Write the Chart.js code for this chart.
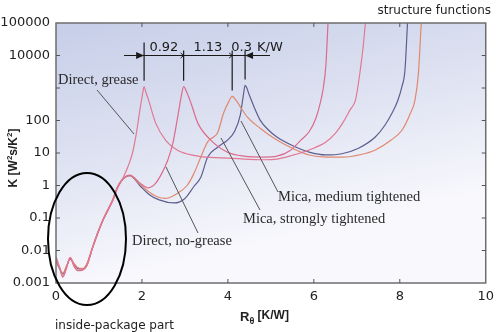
<!DOCTYPE html>
<html>
<head>
<meta charset="utf-8">
<script src="https://cdn.jsdelivr.net/npm/chart.js@4"></script>
<style>
  body { margin: 0; background: #fff; }
  #wrap { width: 500px; height: 332px; position: relative; }
</style>
</head>
<body>
<div id="wrap"><canvas id="chart"></canvas></div>
<script>
// Structure functions: cumulative capacitance K vs cumulative thermal resistance R
const greaseR = [0, 0.08, 0.16, 0.25, 0.33, 0.42, 0.5, 0.62, 0.72, 0.85, 1.0, 1.1, 1.22, 1.33, 1.42,
  1.55, 1.68, 1.78, 1.87, 1.95, 2.01, 2.05, 2.09, 2.16, 2.32, 2.55, 2.84, 3.2, 3.6, 4.0, 4.5,
  4.84, 5.14, 5.5, 5.89, 6.28, 6.5, 6.67, 6.85, 6.97, 7.08, 7.15, 7.2];
const greaseK = [0.006, 0.003, 0.0015, 0.003, 0.0062, 0.0035, 0.0025, 0.0026, 0.0035, 0.012, 0.042, 0.09, 0.18, 0.36, 0.75,
  1.6, 4, 10, 40, 200, 600, 1100, 750, 400, 83, 25, 12, 8.5, 7.3, 7.0, 6.4,
  6.2, 6.5, 8.5, 12.4, 21.7, 40, 83, 220, 430, 3500, 20000, 100000];

const noGreaseR = [0, 0.08, 0.16, 0.25, 0.33, 0.42, 0.5, 0.62, 0.72, 0.85, 1.0, 1.1, 1.22, 1.33, 1.42,
  1.54, 1.72, 1.95, 2.15, 2.3, 2.45, 2.6, 2.72, 2.84, 2.92, 2.97, 3.05, 3.14, 3.3, 3.6, 3.99,
  4.38, 4.84, 5.14, 5.45, 5.7, 5.89, 6.05, 6.15, 6.22, 6.28, 6.33];
const noGreaseK = [0.0065, 0.0032, 0.0016, 0.0032, 0.006, 0.0032, 0.0024, 0.0025, 0.0034, 0.012, 0.044, 0.09, 0.19, 0.38, 0.8,
  1.5, 2.1, 1.2, 0.85, 1.1, 2.2, 6, 20, 150, 600, 1100, 700, 345, 83, 25, 10.6,
  8, 7.5, 8, 12, 25, 45, 120, 350, 1000, 5000, 100000];

const micaStrongR = [0, 0.08, 0.16, 0.25, 0.33, 0.42, 0.5, 0.62, 0.72, 0.85, 1.0, 1.1, 1.22, 1.33, 1.42,
  1.54, 1.72, 1.95, 2.15, 2.35, 2.55, 2.8, 3.05, 3.2, 3.37, 3.53, 3.65, 3.76, 3.9, 4.02, 4.10,
  4.2, 4.3, 4.45, 4.75, 5.14, 5.5, 5.89, 6.3, 6.67, 7.1, 7.43, 7.8, 8.05, 8.25, 8.35, 8.43, 8.5];
const micaStrongK = [0.005, 0.003, 0.002, 0.0035, 0.0058, 0.004, 0.003, 0.0028, 0.004, 0.013, 0.045, 0.095, 0.2, 0.4, 0.85,
  1.5, 2.0, 1.1, 0.65, 0.45, 0.4, 0.55, 1.0, 2.2, 7.5, 22, 30, 42, 170, 380, 550,
  400, 250, 130, 58, 25, 14, 8.7, 7.5, 7.5, 9, 12.4, 25, 50, 170, 400, 2500, 100000];

const micaMediumR = [0, 0.08, 0.16, 0.25, 0.33, 0.42, 0.5, 0.62, 0.72, 0.85, 1.0, 1.1, 1.22, 1.33, 1.42,
  1.54, 1.72, 1.95, 2.15, 2.4, 2.75, 3.0, 3.2, 3.37, 3.53, 3.76, 3.99, 4.15, 4.29, 4.36, 4.40,
  4.5, 4.6, 4.75, 4.95, 5.14, 5.5, 5.89, 6.28, 6.65, 7.04, 7.43, 7.65, 7.82, 7.95, 8.05, 8.12, 8.18];
const micaMediumK = [0.0048, 0.0028, 0.0019, 0.0033, 0.0055, 0.0038, 0.0028, 0.0027, 0.0038, 0.012, 0.043, 0.09, 0.19, 0.38, 0.82,
  1.5, 2.0, 1.0, 0.55, 0.36, 0.29, 0.4, 0.9, 1.8, 7.5, 15, 25, 45, 150, 600, 1200,
  600, 280, 103, 50, 31, 17, 10.6, 8.7, 9.5, 14, 31, 70, 170, 400, 1100, 3500, 100000];

// peak positions used by the dimension line, and the gaps written above it
const peakR = [2.05, 2.97, 4.10, 4.40];
const peakK = [1100, 1100, 550, 1200];
const gapLabels = ["0.92", "1.13", "0.3"];

const xTicks = [0, 2, 4, 6, 8, 10];
const yTicks = [0.001, 0.01, 0.1, 1, 10, 100, 1000, 10000, 100000];
const yTickLabels = ["0.001", "0.01", "0.1", "1", "10", "100", "", "10000", "100000"];

const toPoints = (rs, ks) => rs.map((r, i) => ({ x: r, y: ks[i] }));

const curve = (label, rs, ks, color) => ({
  label,
  data: toPoints(rs, ks),
  borderColor: color,
  borderWidth: 1.2,
  pointRadius: 0,
  fill: false,
  cubicInterpolationMode: "monotone"
});

const backdrop = {
  id: "backdrop",
  beforeDraw(chart) {
    const { ctx, chartArea: a } = chart;
    const g = ctx.createLinearGradient(a.left, a.top, a.left + 60, a.bottom);
    g.addColorStop(0, "#c6cee8");
    g.addColorStop(0.5, "#dde1f1");
    g.addColorStop(1, "#f9f9fd");
    ctx.save();
    ctx.fillStyle = g;
    ctx.fillRect(a.left, a.top, a.right - a.left, a.bottom - a.top);
    ctx.restore();
  }
};

// plot frame with inward tick marks on all four sides
const frame = {
  id: "frame",
  afterDatasetsDraw(chart) {
    const { ctx, chartArea: a, scales } = chart;
    ctx.save();
    ctx.strokeStyle = "#6e6e6e";
    ctx.lineWidth = 1.5;
    ctx.strokeRect(a.left, a.top, a.right - a.left, a.bottom - a.top);
    ctx.lineWidth = 1;
    ctx.strokeStyle = "#555";
    ctx.beginPath();
    xTicks.slice(1, -1).forEach(v => {
      const x = scales.x.getPixelForValue(v);
      ctx.moveTo(x, a.top); ctx.lineTo(x, a.top + 4);
      ctx.moveTo(x, a.bottom); ctx.lineTo(x, a.bottom - 4);
    });
    yTicks.slice(1, -1).forEach(v => {
      const y = scales.y.getPixelForValue(v);
      ctx.moveTo(a.left, y); ctx.lineTo(a.left + 4, y);
      ctx.moveTo(a.right, y); ctx.lineTo(a.right - 4, y);
    });
    ctx.stroke();
    ctx.restore();
  }
};

function arrowHead(ctx, x, y, dir, len, half, filled) {
  ctx.beginPath();
  ctx.moveTo(x - dir * len, y - half);
  ctx.lineTo(x, y);
  ctx.lineTo(x - dir * len, y + half);
  if (filled) { ctx.closePath(); ctx.fill(); } else { ctx.stroke(); }
}

function drawParts(ctx, parts, x, y) {
  parts.forEach(p => {
    ctx.font = p.font;
    ctx.fillText(p.text, x, y + (p.dy || 0));
    x += ctx.measureText(p.text).width;
  });
}

function partsWidth(ctx, parts) {
  return parts.reduce((w, p) => { ctx.font = p.font; return w + ctx.measureText(p.text).width; }, 0);
}

const notes = {
  id: "notes",
  afterDraw(chart) {
    const { ctx, scales } = chart;
    const xs = scales.x, ys = scales.y;
    ctx.save();

    // dimension line across the four peaks
    const yDim = ys.getPixelForValue(10000);
    const px = peakR.map(r => xs.getPixelForValue(r));
    ctx.strokeStyle = "#1a1a1a";
    ctx.fillStyle = "#1a1a1a";
    ctx.lineWidth = 1.2;
    ctx.beginPath();
    ctx.moveTo(124, yDim); ctx.lineTo(270, yDim);
    px.forEach((x, i) => {
      const top = i === 0 ? yDim - 13 : yDim - 5;
      const bottom = ys.getPixelForValue(peakK[i]) - 6;
      ctx.moveTo(x, top); ctx.lineTo(x, bottom);
    });
    ctx.stroke();
    arrowHead(ctx, px[0], yDim, 1, 8, 3.5, true);
    arrowHead(ctx, px[3], yDim, -1, 8, 3.5, true);
    ctx.lineWidth = 1;
    arrowHead(ctx, px[1], yDim, 1, 3, 2.5, false);
    arrowHead(ctx, px[2], yDim, 1, 3, 2.5, false);

    ctx.font = '13px "DejaVu Sans"';
    ctx.textBaseline = "alphabetic";
    ctx.textAlign = "center";
    gapLabels.forEach((t, i) => {
      const cx = (px[i] + px[i + 1]) / 2 + (i === 2 ? 3 : 0);
      ctx.fillText(t, cx, yDim - 5);
    });
    ctx.textAlign = "left";
    ctx.fillText("K/W", px[3] + 12, yDim - 5);

    // ellipse around the package part
    ctx.strokeStyle = "#000";
    ctx.lineWidth = 2;
    ctx.beginPath();
    ctx.ellipse(87, 239, 39, 66, 0, 0, Math.PI * 2);
    ctx.stroke();

    // curve captions and pointer lines
    ctx.strokeStyle = "#555";
    ctx.lineWidth = 1;
    ctx.beginPath();
    ctx.moveTo(97, 90); ctx.lineTo(134, 134);
    ctx.moveTo(166, 167); ctx.lineTo(198, 233);
    ctx.moveTo(221, 138); ctx.lineTo(260, 210);
    ctx.moveTo(241, 121); ctx.lineTo(278, 192);
    ctx.stroke();

    ctx.fillStyle = "#2a2a2a";
    ctx.font = '14.5px "Liberation Serif"';
    ctx.fillText("Direct, grease", 58, 84);
    ctx.fillText("Direct, no-grease", 132, 245);
    ctx.fillText("Mica, medium tightened", 278, 201);
    ctx.fillText("Mica, strongly tightened", 243, 223);

    ctx.fillStyle = "#222";
    ctx.font = '12px "DejaVu Sans"';
    ctx.textAlign = "right";
    ctx.fillText("structure functions", 491, 14);
    ctx.textAlign = "left";
    ctx.fillText("inside-package part", 55, 329);

    // axis titles
    const bold = '700 12px "Liberation Sans"';
    const boldSm = '700 8px "Liberation Sans"';
    const yParts = [
      { text: "K [W", font: bold },
      { text: "2", font: boldSm, dy: -5 },
      { text: "s/K", font: bold },
      { text: "2", font: boldSm, dy: -5 },
      { text: "]", font: bold }
    ];
    ctx.translate(17, 158);
    ctx.rotate(-Math.PI / 2);
    drawParts(ctx, yParts, -partsWidth(ctx, yParts) / 2, 0);
    ctx.setTransform(1, 0, 0, 1, 0, 0);

    drawParts(ctx, [
      { text: "R", font: '700 13px "Liberation Sans"' },
      { text: "θ", font: '700 9px "Liberation Sans"', dy: 3 },
      { text: " [K/W]", font: '700 12px "Liberation Sans"', dy: -2 }
    ], 240, 321);

    ctx.restore();
  }
};

new Chart(document.getElementById("chart"), {
  type: "line",
  data: {
    datasets: [
      curve("Direct, grease", greaseR, greaseK, "#e27893"),
      curve("Direct, no-grease", noGreaseR, noGreaseK, "#dc6a8c"),
      curve("Mica, strongly tightened", micaStrongR, micaStrongK, "#e0886e"),
      curve("Mica, medium tightened", micaMediumR, micaMediumK, "#5c5e8e")
    ]
  },
  options: {
    responsive: true,
    maintainAspectRatio: false,
    animation: false,
    layout: { padding: { top: 23, right: 8, left: 0, bottom: 0 } },
    plugins: { legend: { display: false }, tooltip: { enabled: false } },
    scales: {
      x: {
        type: "linear",
        min: 0,
        max: 10,
        afterBuildTicks: s => { s.ticks = xTicks.map(v => ({ value: v })); },
        afterFit: s => { s.height = 49; },
        grid: { display: false, drawTicks: false },
        border: { display: false },
        ticks: { padding: 6, color: "#222", font: { family: "DejaVu Sans", size: 13 } }
      },
      y: {
        type: "logarithmic",
        min: 0.001,
        max: 100000,
        afterBuildTicks: s => { s.ticks = yTicks.map(v => ({ value: v })); },
        afterFit: s => { s.width = 56; },
        grid: { display: false, drawTicks: false },
        border: { display: false },
        ticks: {
          padding: 6,
          color: "#222",
          font: { family: "DejaVu Sans", size: 13 },
          callback: (v) => yTickLabels[yTicks.indexOf(v)] ?? ""
        }
      }
    }
  },
  plugins: [backdrop, frame, notes]
});
</script>
</body>
</html>
